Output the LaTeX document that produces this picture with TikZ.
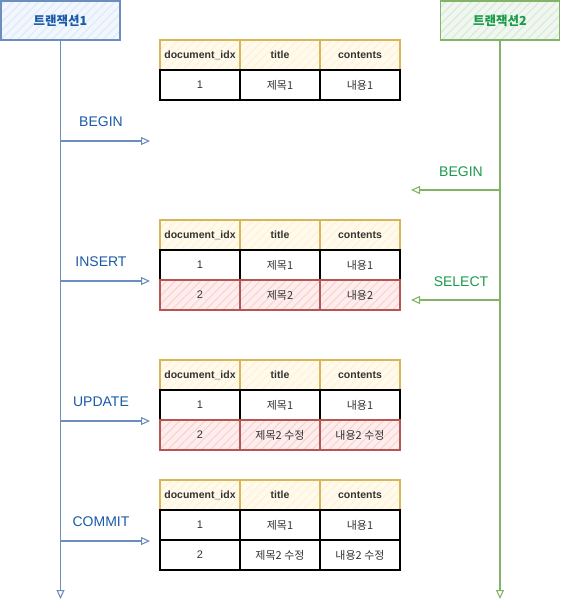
\documentclass[tikz,border=0pt]{standalone}
\usepackage{fontspec}
\setmainfont{Liberation Sans}
\newfontfamily\kr{Noto Sans CJK KR}
\usetikzlibrary{arrows.meta,patterns.meta}

\definecolor{bluefill}{HTML}{DAE8FC}
\definecolor{blueline}{HTML}{6C8EBF}
\definecolor{bluetext}{HTML}{1A5AA6}
\definecolor{greenfill}{HTML}{D5E8D4}
\definecolor{greenline}{HTML}{82B366}
\definecolor{greentext}{HTML}{1A9A4A}
\definecolor{headfill}{HTML}{FFF2CC}
\definecolor{headline}{HTML}{D6B656}
\definecolor{redfill}{HTML}{F8CECC}
\definecolor{redline}{HTML}{B85450}
\definecolor{celltext}{HTML}{333333}

\tikzset{
  hatch/.style={preaction={fill=#1!35},preaction={pattern={Lines[angle=45,distance=6pt,line width=1.1pt]},pattern color=#1!90}},
  txbox/.style={minimum width=119pt,minimum height=39pt,inner sep=0,line width=1.3pt,font=\kr\bfseries\fontsize{12.5}{14}\selectfont},
  cell/.style={minimum width=80pt,minimum height=30pt,inner sep=0,line width=1.3pt,text=celltext,font=\fontsize{11}{13}\selectfont},
  headcell/.style={cell,draw=headline,hatch=headfill,font=\bfseries\fontsize{10.5}{13}\selectfont},
  datacell/.style={cell,draw=black,fill=white},
  newcell/.style={cell,draw=redline,hatch=redfill},
  bluemsg/.style={->,draw=blueline,line width=1.1pt},
  greenmsg/.style={->,draw=greenline,line width=1.1pt},
  bluelabel/.style={text=bluetext,font=\fontsize{14}{16}\selectfont},
  greenlabel/.style={text=greentext,font=\fontsize{14}{16}\selectfont}
}

\begin{document}
\begin{tikzpicture}[x=1pt,y=-1pt,>={Triangle[open,length=9pt,width=8pt]}]
    \useasboundingbox (0,0) rectangle (561,609);

    % transactions
    \node[txbox,draw=blueline,hatch=bluefill,text=bluetext] (tx1) at (60.5,20.5) {트랜잭션1};
    \node[txbox,draw=greenline,hatch=greenfill,text=greentext] (tx2) at (500,20.5) {트랜잭션2};
    \coordinate (tx1end) at (60.5,599);
    \coordinate (tx2end) at (500,599);

    % table after BEGIN
    \node[headcell] (t1h1) at (200,55) {document\_idx};
    \node[headcell] (t1h2) at (280,55) {title};
    \node[headcell] (t1h3) at (360,55) {contents};
    \node[datacell] (t1a1) at (200,85) {1};
    \node[datacell] (t1a2) at (280,85) {\kr 제목1};
    \node[datacell] (t1a3) at (360,85) {\kr 내용1};

    % table after INSERT
    \node[headcell] (t2h1) at (200,235) {document\_idx};
    \node[headcell] (t2h2) at (280,235) {title};
    \node[headcell] (t2h3) at (360,235) {contents};
    \node[datacell] (t2a1) at (200,265) {1};
    \node[datacell] (t2a2) at (280,265) {\kr 제목1};
    \node[datacell] (t2a3) at (360,265) {\kr 내용1};
    \node[newcell] (t2b1) at (200,295) {2};
    \node[newcell] (t2b2) at (280,295) {\kr 제목2};
    \node[newcell] (t2b3) at (360,295) {\kr 내용2};

    % table after UPDATE
    \node[headcell] (t3h1) at (200,375) {document\_idx};
    \node[headcell] (t3h2) at (280,375) {title};
    \node[headcell] (t3h3) at (360,375) {contents};
    \node[datacell] (t3a1) at (200,405) {1};
    \node[datacell] (t3a2) at (280,405) {\kr 제목1};
    \node[datacell] (t3a3) at (360,405) {\kr 내용1};
    \node[newcell] (t3b1) at (200,435) {2};
    \node[newcell] (t3b2) at (280,435) {\kr 제목2 수정};
    \node[newcell] (t3b3) at (360,435) {\kr 내용2 수정};

    % table after COMMIT
    \node[headcell] (t4h1) at (200,495) {document\_idx};
    \node[headcell] (t4h2) at (280,495) {title};
    \node[headcell] (t4h3) at (360,495) {contents};
    \node[datacell] (t4a1) at (200,525) {1};
    \node[datacell] (t4a2) at (280,525) {\kr 제목1};
    \node[datacell] (t4a3) at (360,525) {\kr 내용1};
    \node[datacell] (t4b1) at (200,555) {2};
    \node[datacell] (t4b2) at (280,555) {\kr 제목2 수정};
    \node[datacell] (t4b3) at (360,555) {\kr 내용2 수정};

    % lifelines
    \draw[bluemsg] (tx1) -- (tx1end);
    \draw[greenmsg] (tx2) -- (tx2end);

    % messages of transaction 1
    \coordinate (begin1) at (60.5,141);
    \coordinate (begin1e) at (150,141);
    \coordinate (insert) at (60.5,281);
    \coordinate (inserte) at (150,281);
    \coordinate (update) at (60.5,421);
    \coordinate (updatee) at (150,421);
    \coordinate (commit) at (60.5,541);
    \coordinate (commite) at (150,541);
    \draw[bluemsg] (begin1) -- (begin1e);
    \draw[bluemsg] (insert) -- (inserte);
    \draw[bluemsg] (update) -- (updatee);
    \draw[bluemsg] (commit) -- (commite);
    \node[bluelabel] (lbegin1) at (101,122) {BEGIN};
    \node[bluelabel] (linsert) at (101,262) {INSERT};
    \node[bluelabel] (lupdate) at (101,402) {UPDATE};
    \node[bluelabel] (lcommit) at (101,522) {COMMIT};

    % messages of transaction 2
    \coordinate (begin2) at (500,190);
    \coordinate (begin2e) at (411,190);
    \coordinate (select) at (500,300);
    \coordinate (selecte) at (411,300);
    \draw[greenmsg] (begin2) -- (begin2e);
    \draw[greenmsg] (select) -- (selecte);
    \node[greenlabel] (lbegin2) at (461,172) {BEGIN};
    \node[greenlabel] (lselect) at (461,282) {SELECT};
\end{tikzpicture}
\end{document}
